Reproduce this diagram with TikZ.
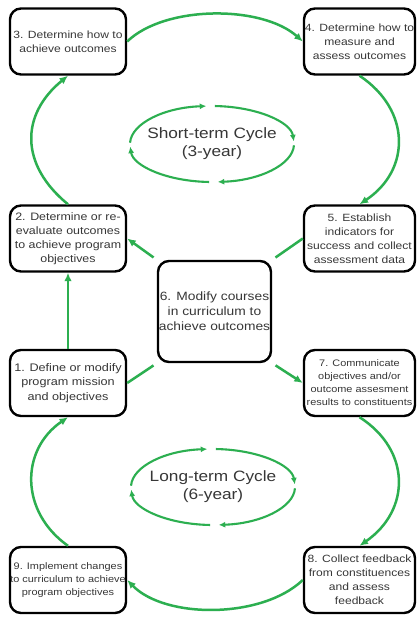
\documentclass[tikz,border=0pt]{standalone}
\usepackage{fontspec}
\setmainfont{Liberation Sans}[FakeStretch=1.15]
\usepackage{tikz}
\usetikzlibrary{arrows.meta}
\definecolor{cyclegreen}{RGB}{44,175,80}
\definecolor{boxtext}{RGB}{55,55,55}

\begin{document}
\begin{tikzpicture}[x=1pt,y=-1pt,>={Latex[length=8.5pt,width=7.5pt]},
  box/.style={draw=black,line width=2.4pt,rounded corners=11pt,fill=white,align=center,
    text=boxtext,inner sep=0pt,minimum height=66pt,font=\fontsize{10.5}{14}\selectfont},
  lbox/.style={box,minimum width=116pt},
  rbox/.style={box,minimum width=111pt},
  link/.style={draw=cyclegreen,line width=2.5pt},
  cyclearc/.style={draw=cyclegreen,line width=2.1pt,-{Latex[length=6.5pt,width=6pt]}},
  cyclabel/.style={align=center,text=boxtext,font=\fontsize{15}{18}\selectfont}]
\fill[white] (0,0) rectangle (417,619);
\useasboundingbox (0,0) rectangle (417,619);

% left column
\node[lbox] (s3) at (68,41.5) {3. Determine how to\\achieve outcomes};
\node[lbox,font=\fontsize{10.8}{14}\selectfont] (s2) at (68,238.5) {2. Determine or re-\\evaluate outcomes\\to achieve program\\objectives};
\node[lbox,font=\fontsize{11}{14.5}\selectfont] (s1) at (68,383) {1. Define or modify\\program mission\\and objectives};
\node[lbox,font=\fontsize{9.5}{13}\selectfont] (s9) at (68,580) {9. Implement changes\\to curriculum to achieve\\program objectives};

% right column
\node[rbox] (s4) at (359.5,41.5) {4. Determine how to\\measure and\\assess outcomes};
\node[rbox] (s5) at (359.5,238.5) {5. Establish\\indicators for\\success and collect\\assessment data};
\node[rbox,font=\fontsize{9.5}{13}\selectfont] (s7) at (359.5,383) {7. Communicate\\objectives and/or\\outcome assesment\\results to constituents};
\node[rbox] (s8) at (359.5,580) {8. Collect feedback\\from constituences\\and assess\\feedback};

% middle
\node[box,minimum width=113pt,minimum height=101pt,font=\fontsize{12}{15}\selectfont] (s6) at (214.5,311.5) {6. Modify courses\\in curriculum to\\achieve outcomes};

\node[cyclabel] (short) at (212,144) {Short-term Cycle\\(3-year)};
\node[cyclabel] (long) at (213,487) {Long-term Cycle\\(6-year)};

\foreach \c in {short,long}
  \foreach \a in {182,272,362,452}
    \draw[cyclearc] (\c) ++(\a:82 and 38) arc[start angle=\a,delta angle=84,x radius=82,y radius=38];

% short-term cycle
\draw[link,->] (s2.north) .. controls (20,165) and (20,115) .. (s3.south);
\draw[link,->] (s3.east) .. controls (165,5) and (262,5) .. (s4.west);
\draw[link,->] (s4.south) .. controls (411,110) and (411,170) .. (s5.north);
\draw[link,shorten >=4pt] (s5.west) -- (s6.north east);
\draw[link,->,shorten <=4pt] (s6.north west) -- (s2.east);
\draw[link,->] (s1.north) -- (s2.south);

% long-term cycle
\draw[link,shorten >=4pt] (s1.east) -- (s6.south west);
\draw[link,->,shorten <=4pt] (s6.south east) -- (s7.west);
\draw[link,->] (s7.south) .. controls (411,450) and (411,510) .. (s8.north);
\draw[link,->] (s8.west) .. controls (262,619) and (165,619) .. (s9.east);
\draw[link,->] (s9.north) .. controls (20,512) and (20,450) .. (s1.south);
\end{tikzpicture}
\end{document}
